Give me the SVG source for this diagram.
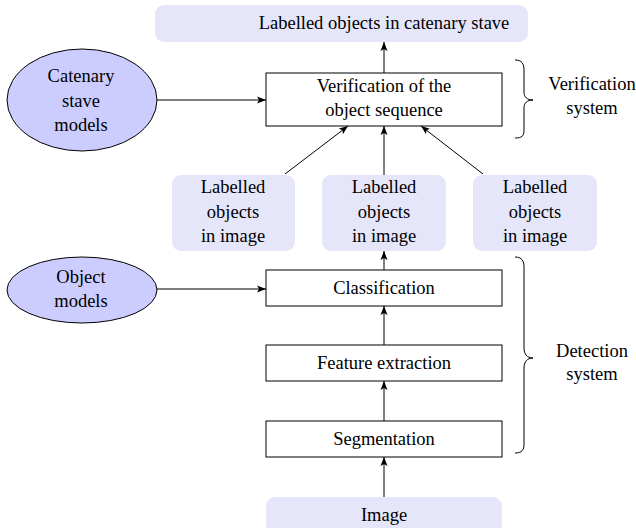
<svg xmlns="http://www.w3.org/2000/svg" width="636" height="528" viewBox="0 0 636 528">
  <defs>
    <marker id="arrow" markerWidth="10" markerHeight="8" refX="9" refY="4" orient="auto" markerUnits="userSpaceOnUse">
      <path d="M0,0.5 L9,4 L0,7.5 L2,4 Z" fill="#000"/>
    </marker>
  </defs>
  <style>
    text { font-family: "Liberation Serif", "Times New Roman", serif; font-size: 18.5px; fill: #000; text-anchor: middle; }
    .data { fill: #e6e6fa; stroke: none; }
    .proc { fill: #fff; stroke: #000; stroke-width: 1; }
    .model { fill: #ccccff; stroke: #000; stroke-width: 1; }
    .edge { fill: none; stroke: #000; stroke-width: 1; marker-end: url(#arrow); }
    .brace { fill: none; stroke: #000; stroke-width: 1; }
  </style>
  <rect width="636" height="528" fill="#fff"/>

  <g id="stave-output">
    <rect class="data" x="155" y="5" width="373" height="37" rx="9"/>
    <text x="384" y="29">Labelled objects in catenary stave</text>
  </g>

  <g id="verification">
    <rect class="proc" x="266" y="73" width="236" height="53"/>
    <text x="384" y="92">Verification of the</text>
    <text x="384" y="116">object sequence</text>
  </g>

  <g id="catenary-models">
    <ellipse class="model" cx="82" cy="100" rx="75" ry="51"/>
    <text x="81" y="82">Catenary</text>
    <text x="81" y="107">stave</text>
    <text x="81" y="131">models</text>
  </g>

  <g id="labelled-left">
    <rect class="data" x="172" y="175" width="123" height="76" rx="9"/>
    <text x="233" y="193">Labelled</text>
    <text x="233" y="218">objects</text>
    <text x="233" y="242">in image</text>
  </g>

  <g id="labelled-mid">
    <rect class="data" x="322" y="175" width="124" height="76" rx="9"/>
    <text x="384" y="193">Labelled</text>
    <text x="384" y="218">objects</text>
    <text x="384" y="242">in image</text>
  </g>

  <g id="labelled-right">
    <rect class="data" x="473" y="175" width="124" height="76" rx="9"/>
    <text x="535" y="193">Labelled</text>
    <text x="535" y="218">objects</text>
    <text x="535" y="242">in image</text>
  </g>

  <g id="object-models">
    <ellipse class="model" cx="82" cy="290" rx="75" ry="33"/>
    <text x="81" y="283">Object</text>
    <text x="81" y="307">models</text>
  </g>

  <g id="classification">
    <rect class="proc" x="266" y="270" width="236" height="36"/>
    <text x="384" y="294">Classification</text>
  </g>

  <g id="feature-extraction">
    <rect class="proc" x="266" y="345" width="236" height="36"/>
    <text x="384" y="369">Feature extraction</text>
  </g>

  <g id="segmentation">
    <rect class="proc" x="266" y="421" width="236" height="36"/>
    <text x="384" y="445">Segmentation</text>
  </g>

  <g id="image">
    <rect class="data" x="266" y="497" width="236" height="40" rx="9"/>
    <text x="384" y="521">Image</text>
  </g>

  <g id="verification-system">
    <path class="brace" d="M515,60 C522,60 524,64 524,70 L524,92 C524,97 527,100 533,100 C527,100 524,103 524,108 L524,130 C524,136 522,138 515,138"/>
    <text x="592" y="90">Verification</text>
    <text x="592" y="114">system</text>
  </g>

  <g id="detection-system">
    <path class="brace" d="M515,257 C522,257 524,261 524,267 L524,348 C524,354 527,358 533,358 C527,358 524,362 524,368 L524,444 C524,450 522,453 515,453"/>
    <text x="592" y="357">Detection</text>
    <text x="592" y="380">system</text>
  </g>

  <g id="connectors">
    <line class="edge" x1="384" y1="73" x2="384" y2="42"/>
    <line class="edge" x1="157" y1="100" x2="266" y2="100"/>
    <line class="edge" x1="285" y1="174" x2="348" y2="126"/>
    <line class="edge" x1="384" y1="175" x2="384" y2="126"/>
    <line class="edge" x1="483" y1="174" x2="421" y2="126"/>
    <line class="edge" x1="384" y1="270" x2="384" y2="251"/>
    <line class="edge" x1="157" y1="289" x2="266" y2="289"/>
    <line class="edge" x1="384" y1="345" x2="384" y2="306"/>
    <line class="edge" x1="384" y1="421" x2="384" y2="381"/>
    <line class="edge" x1="384" y1="497" x2="384" y2="457"/>
  </g>
</svg>
